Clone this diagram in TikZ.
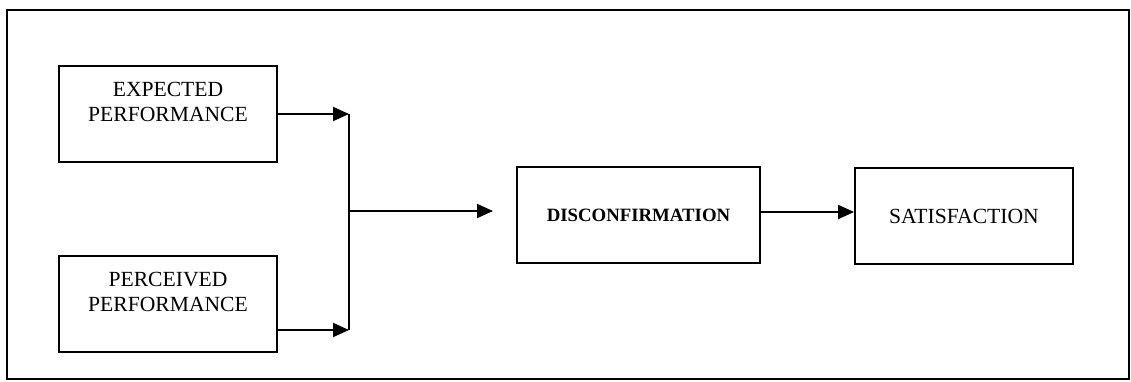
\documentclass[tikz,border=0pt]{standalone}
\usepackage{fontspec}
\setmainfont{Liberation Serif}
\usepackage{tikz}
\usetikzlibrary{arrows.meta, calc, positioning}

\begin{document}
\begin{tikzpicture}[x=0.5pt, y=-0.5pt,
		box/.style={draw, line width=0.9pt, minimum width=109pt, minimum height=48pt, align=center, font=\fontsize{10.8}{12.5}\selectfont},
		inbox/.style={box, text depth=11.7pt},
		flow/.style={line width=0.9pt, -{Triangle[length=8pt, width=7pt]}}]
		\useasboundingbox (0,0) rectangle (1131,381);
		% Frame
		\draw[line width=0.7pt] (7,10) rectangle (1129,379);
		% Boxes
		\node[inbox] (exp) at (168,114) {EXPECTED\\PERFORMANCE};
		\node[inbox] (per) at (168,304) {PERCEIVED\\PERFORMANCE};
		\node[box, minimum width=121.5pt, font=\fontsize{9.4}{11}\selectfont\bfseries] (disc) at (638.5,215) {DISCONFIRMATION};
		\node[box] (sat) at (964,216) {SATISFACTION};

		% Junction
		\coordinate (jtop) at (349,114);
		\coordinate (jbot) at (349,330);
		\coordinate (jmid) at (349,211);
		\coordinate (dtip) at (493,211);

		\draw[flow] (exp.east) -- (jtop);
		\draw[flow] (per.east |- jbot) -- (jbot);
		\draw[line width=0.8pt] (jtop) -- (jbot);
		\draw[flow] (jmid) -- (dtip);
		\draw[flow] (disc.east |- 0,212) -- (sat.west |- 0,212);
	\end{tikzpicture}
\end{document}
